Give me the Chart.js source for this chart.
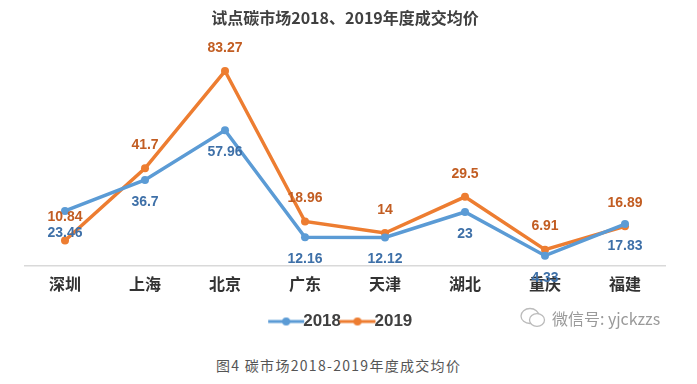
<!DOCTYPE html>
<html>
<head>
<meta charset="utf-8">
<script src="https://cdn.jsdelivr.net/npm/chart.js@4"></script>
<style>
  body { margin: 0; background: #fff; }
  #wrap { position: relative; width: 697px; height: 384px; overflow: hidden; }
  #chart { position: absolute; left: 0; top: 0; }
  #mark { position: absolute; left: 520px; top: 306px; color: #9a9a9a;
          font: 16px "Noto Sans CJK SC", sans-serif; display: flex; align-items: center; }
  #mark svg { margin-right: 6px; }
  #caption { position: absolute; left: 216px; top: 355px; color: #555;
             font: 14px "Noto Sans CJK SC", serif; letter-spacing: 1.3px; }
</style>
</head>
<body>
<div id="wrap">
  <canvas id="chart" width="697" height="340"></canvas>
  <div id="mark">
    <svg width="26" height="22" viewBox="0 0 26 22">
      <ellipse cx="10" cy="9" rx="9" ry="7.5" fill="none" stroke="#bbb" stroke-width="1.3"/>
      <ellipse cx="17" cy="13" rx="7.5" ry="6.3" fill="#fff" stroke="#bbb" stroke-width="1.3"/>
    </svg>
    <span>微信号: yjckzzs</span>
  </div>
  <div id="caption">图4 碳市场2018-2019年度成交均价</div>
</div>
<script>
document.addEventListener("DOMContentLoaded", function() {

    // 数据
    const cities = ['深圳', '上海', '北京', '广东', '天津', '湖北', '重庆', '福建'];
    const price2018 = [23.46, 36.7, 57.96, 12.16, 12.12, 23, 4.33, 17.83];
    const price2019 = [10.84, 41.7, 83.27, 18.96, 14, 29.5, 6.91, 16.89];

    const blue = '#5B9BD5';
    const orange = '#ED7D31';

    // 图例用的小图标: 线 + 圆点
    function legendIcon(color) {
        const c = document.createElement('canvas');
        c.width = 38; c.height = 12;
        const g = c.getContext('2d');
        g.strokeStyle = color; g.lineWidth = 3;
        g.beginPath(); g.moveTo(1, 6); g.lineTo(37, 6); g.stroke();
        g.fillStyle = color;
        g.beginPath(); g.arc(19, 6, 4, 0, Math.PI * 2); g.fill();
        return c;
    }
    const icons = [legendIcon(blue), legendIcon(orange)];

    // 数据标签: 2018 在点下方, 2019 在点上方
    const valueLabels = {
        id: 'valueLabels',
        afterDatasetsDraw(chart) {
            const g = chart.ctx;
            g.save();
            g.font = 'bold 14px "Liberation Sans", Arial, sans-serif';
            g.textAlign = 'center';
            g.textBaseline = 'middle';
            chart.data.datasets.forEach((ds, i) => {
                const meta = chart.getDatasetMeta(i);
                g.fillStyle = ds.labelColor;
                meta.data.forEach((pt, j) => {
                    const dy = i === 0 ? 22 : -23;
                    g.fillText(String(ds.data[j]), pt.x, pt.y + dy);
                });
            });
            g.restore();
        }
    };

    const ctx = document.getElementById('chart').getContext('2d');
    new Chart(ctx, {
        type: 'line',
        data: {
            labels: cities,
            datasets: [{
                label: '2018',
                data: price2018,
                borderColor: blue,
                backgroundColor: blue,
                labelColor: '#3E70A8',
                borderWidth: 3.5,
                pointRadius: 4,
                pointBackgroundColor: blue,
                pointBorderWidth: 0
            }, {
                label: '2019',
                data: price2019,
                borderColor: orange,
                backgroundColor: orange,
                labelColor: '#C25D22',
                borderWidth: 3.5,
                pointRadius: 4,
                pointBackgroundColor: orange,
                pointBorderWidth: 0
            }]
        },
        options: {
            responsive: false,
            animation: false,
            layout: { padding: { left: 25, right: 32, top: 8, bottom: 0 } },
            plugins: {
                title: {
                    display: true,
                    text: '试点碳市场2018、2019年度成交均价',
                    color: '#404040',
                    font: { family: '"Noto Sans CJK SC"', size: 16, weight: 'bold' },
                    padding: { top: 0, bottom: 0 }
                },
                legend: {
                    position: 'bottom',
                    labels: {
                        usePointStyle: true,
                        color: '#404040',
                        font: { family: '"Liberation Sans", Arial', size: 17, weight: 'bold' },
                        padding: 8,
                        boxHeight: 12,
                        generateLabels(chart) {
                            const items = Chart.defaults.plugins.legend.labels.generateLabels(chart);
                            items.forEach((it, k) => { it.pointStyle = icons[k]; });
                            return items;
                        }
                    }
                },
                tooltip: { enabled: false }
            },
            scales: {
                x: {
                    offset: true,
                    grid: { display: false },
                    border: { display: true, color: '#D9D9D9', width: 1.5 },
                    ticks: {
                        color: '#333333',
                        padding: 1,
                        font: { family: '"Noto Sans CJK SC"', size: 16, weight: 'bold' }
                    },
                    afterFit(scale) { scale.height += 10; }
                },
                y: {
                    display: false,
                    min: 0,
                    max: 102
                }
            }
        },
        plugins: [valueLabels]
    });
});
</script>
</body>
</html>
